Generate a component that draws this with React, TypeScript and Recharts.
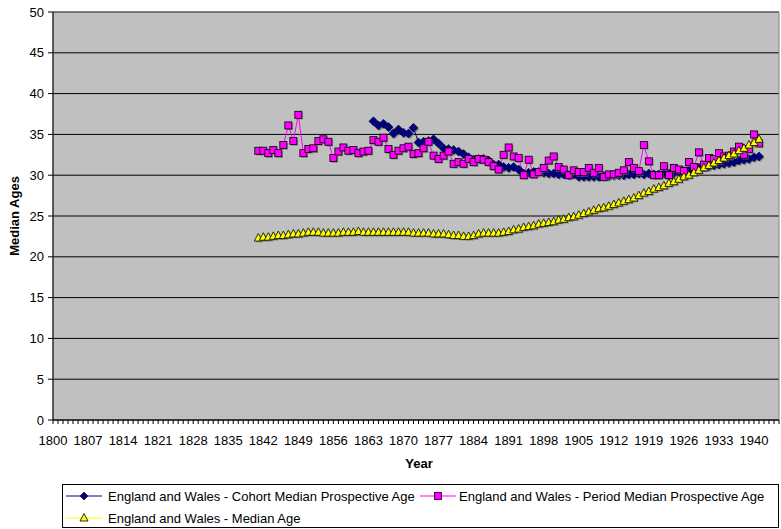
import React from 'react';
import {
  LineChart,
  Line,
  XAxis,
  YAxis,
  CartesianGrid,
  ReferenceArea
} from 'recharts';

// year range of the category axis
const FIRST_YEAR = 1800;
const LAST_YEAR = 1945;
const LABEL_STEP = 7;
const Y_TICKS = [0, 5, 10, 15, 20, 25, 30, 35, 40, 45, 50];

const COHORT_START = 1864;
const cohortValues = [
  36.6, 36.1, 36.3, 35.9, 35.1, 35.6, 35.2, 35.1, 35.8, 34.0, // 1864-1873
  34.1, 34.2, 34.4, 33.9, 33.3, 33.2, 33.1, 32.9, 32.6, 32.2, // 1874-1883
  31.9, 32.0, 32.0, 31.8, 31.3, 31.3, 31.0, 30.9, 31.0, 30.7, // 1884-1893
  30.2, 30.3, 30.4, 30.4, 30.3, 30.2, 30.2, 30.1, 30.1, 30.0, // 1894-1903
  30.1, 29.8, 29.8, 29.8, 29.8, 29.8, 29.9, 29.9, 30.0, 30.0, // 1904-1913
  30.0, 30.1, 30.1, 30.2, 30.1, 30.2, 30.1, 30.1, 30.2, 30.2, // 1914-1923
  30.3, 30.4, 30.5, 30.6, 30.8, 30.9, 31.0, 31.1, 31.2, 31.3, // 1924-1933
  31.4, 31.5, 31.6, 31.8, 31.9, 32.0, 32.2, 32.3              // 1934-1941
];

const PERIOD_START = 1841;
const periodValues = [
  33.0, 33.0, 32.7, 33.1, 32.7, 33.7, 36.1, 34.2, 37.4, 32.7, // 1841-1850
  33.2, 33.3, 34.2, 34.4, 34.1, 32.1, 32.9, 33.4, 33.0, 33.1, // 1851-1860
  32.7, 32.9, 33.0, 34.3, 34.1, 34.6, 33.2, 32.5, 33.0, 33.3, // 1861-1870
  33.5, 32.6, 32.7, 33.3, 34.1, 32.4, 32.0, 32.4, 32.9, 31.4, // 1871-1880
  31.6, 31.4, 32.0, 31.6, 32.0, 31.9, 31.6, 31.1, 30.7, 32.5, // 1881-1890
  33.4, 32.3, 32.1, 30.0, 31.9, 30.1, 30.4, 30.9, 31.8, 32.3, // 1891-1900
  31.0, 30.7, 30.0, 30.6, 30.4, 30.4, 30.9, 30.3, 30.9, 29.8, // 1901-1910
  30.1, 30.1, 30.3, 30.6, 31.6, 30.9, 30.5, 33.7, 31.7, 30.0, // 1911-1920
  30.0, 31.1, 30.0, 30.9, 30.7, 30.5, 31.6, 31.0, 32.8, 31.3, // 1921-1930
  32.1, 32.0, 32.7, 32.3, 32.4, 32.9, 33.5, 32.5, 33.2, 35.0, // 1931-1940
  33.9                                                        // 1941
];

const MEDIAN_START = 1841;
const medianValues = [
  22.3, 22.4, 22.4, 22.5, 22.6, 22.6, 22.7, 22.8, 22.8, 22.9, // 1841-1850
  23.0, 23.0, 23.0, 22.9, 22.9, 22.9, 22.9, 23.0, 23.0, 23.0, // 1851-1860
  23.1, 23.0, 23.0, 23.0, 23.0, 23.0, 23.0, 23.0, 23.0, 23.0, // 1861-1870
  23.0, 22.9, 22.9, 22.9, 22.9, 22.8, 22.8, 22.8, 22.7, 22.6, // 1871-1880
  22.6, 22.5, 22.5, 22.6, 22.8, 22.9, 22.9, 22.9, 22.9, 23.0, // 1881-1890
  23.1, 23.3, 23.4, 23.6, 23.7, 23.8, 24.0, 24.1, 24.2, 24.3, // 1891-1900
  24.5, 24.6, 24.8, 24.9, 25.1, 25.3, 25.5, 25.7, 25.9, 26.0, // 1901-1910
  26.2, 26.4, 26.6, 26.8, 27.0, 27.2, 27.5, 27.8, 28.0, 28.3, // 1911-1920
  28.5, 28.7, 29.0, 29.2, 29.5, 29.8, 30.0, 30.3, 30.6, 30.9, // 1921-1930
  31.2, 31.5, 31.8, 32.1, 32.4, 32.6, 33.0, 33.3, 33.7, 34.0, // 1931-1940
  34.4                                                        // 1941
];

const SERIES_NAMES = [
  'England and Wales - Cohort Median Prospective Age',
  'England and Wales - Period Median Prospective Age',
  'England and Wales - Median Age'
];

const NAVY = '#000080';
const PINK = '#FF00FF';
const YELLOW = '#FFFF00';
const FONT = 'Arial, "Liberation Sans", Helvetica, sans-serif';

const years: number[] = [];
for (let y = FIRST_YEAR; y <= LAST_YEAR; y++) years.push(y);

const pick = (vals: number[], start: number, yr: number) => {
  const i = yr - start;
  return i >= 0 && i < vals.length ? vals[i] : null;
};

const data = years.map(yr => ({
  year: yr,
  cohort: pick(cohortValues, COHORT_START, yr),
  period: pick(periodValues, PERIOD_START, yr),
  median: pick(medianValues, MEDIAN_START, yr)
}));

// marker shapes (excel style, with a small drop shadow)
const diamondPath = (x: number, y: number, r: number) =>
  `M${x},${y - r}L${x + r},${y}L${x},${y + r}L${x - r},${y}Z`;
const trianglePath = (x: number, y: number) =>
  `M${x},${y - 4.5}L${x + 4},${y + 3}L${x - 4},${y + 3}Z`;

const DiamondDot = (props: any) => {
  const { cx, cy, value, index } = props;
  if (value == null || cx == null || cy == null) return <g key={`d-${index}`} />;
  return (
    <g key={`d-${index}`}>
      <path d={diamondPath(cx + 1.2, cy + 1.2, 4.5)} fill="#6e6e6e" opacity={0.7} />
      <path d={diamondPath(cx, cy, 4.5)} fill={NAVY} stroke="#000030" strokeWidth={0.6} />
    </g>
  );
};

const SquareDot = (props: any) => {
  const { cx, cy, value, index } = props;
  if (value == null || cx == null || cy == null) return <g key={`s-${index}`} />;
  return (
    <g key={`s-${index}`}>
      <rect x={cx - 3.5 + 1.2} y={cy - 3.5 + 1.2} width={7} height={7} fill="#6e6e6e" opacity={0.7} />
      <rect x={cx - 3.5} y={cy - 3.5} width={7} height={7} fill={PINK} stroke="#000" strokeWidth={0.8} />
    </g>
  );
};

const TriangleDot = (props: any) => {
  const { cx, cy, value, index } = props;
  if (value == null || cx == null || cy == null) return <g key={`t-${index}`} />;
  return (
    <g key={`t-${index}`}>
      <path d={trianglePath(cx + 1.2, cy + 1.2)} fill="#6e6e6e" opacity={0.7} />
      <path d={trianglePath(cx, cy)} fill={YELLOW} stroke="#000" strokeWidth={0.8} />
    </g>
  );
};

const YearTick = (props: any) => {
  const { x, y, payload } = props;
  const yr = payload.value;
  if ((yr - FIRST_YEAR) % LABEL_STEP !== 0) return <g />;
  return (
    <text x={x} y={y} dy={19} textAnchor="middle" fontSize={13} fontFamily={FONT} fill="#000">
      {yr}
    </text>
  );
};

const LegendIcon = ({ x, y, kind }: { x: number; y: number; kind: number }) => {
  const colors = [NAVY, PINK, YELLOW];
  const mid = x + 18;
  return (
    <g>
      <line x1={x} y1={y} x2={x + 36} y2={y} stroke={colors[kind]} strokeWidth={1} />
      {kind === 0 && <path d={diamondPath(mid, y, 4)} fill={NAVY} stroke="#000030" strokeWidth={0.6} />}
      {kind === 1 && <rect x={mid - 3.5} y={y - 3.5} width={7} height={7} fill={PINK} stroke="#000" strokeWidth={0.8} />}
      {kind === 2 && <path d={trianglePath(mid, y)} fill={YELLOW} stroke="#000" strokeWidth={0.8} />}
    </g>
  );
};

export default function App() {
  return (
    <div style={{ position: 'relative', width: 781, height: 529, background: '#fff' }}>
      <style>{'body{margin:0}'}</style>
      <LineChart
        width={781}
        height={529}
        data={data}
        margin={{ top: 12, right: 2, left: 0, bottom: 79 }}
      >
        <CartesianGrid vertical={false} stroke="#000" fill="#C0C0C0" horizontalValues={Y_TICKS} />
        <ReferenceArea
          x1={FIRST_YEAR}
          x2={LAST_YEAR}
          y1={0}
          y2={50}
          fill="none"
          stroke="#808080"
          strokeWidth={1}
        />
        <XAxis
          dataKey="year"
          type="number"
          domain={[FIRST_YEAR, LAST_YEAR]}
          ticks={years}
          interval={0}
          height={30}
          tickSize={4}
          tickMargin={2}
          tick={<YearTick />}
          axisLine={{ stroke: '#000' }}
          tickLine={{ stroke: '#000' }}
          allowDecimals={false}
        />
        <YAxis
          type="number"
          domain={[0, 50]}
          ticks={Y_TICKS}
          width={53}
          tickSize={5}
          tickMargin={4}
          tick={{ fontSize: 13, fontFamily: FONT, fill: '#000' }}
          axisLine={{ stroke: '#000' }}
          tickLine={{ stroke: '#000' }}
        />
        <Line
          dataKey="cohort"
          name={SERIES_NAMES[0]}
          stroke={NAVY}
          strokeWidth={1}
          dot={DiamondDot}
          activeDot={false}
          isAnimationActive={false}
        />
        <Line
          dataKey="period"
          name={SERIES_NAMES[1]}
          stroke={PINK}
          strokeWidth={1}
          dot={SquareDot}
          activeDot={false}
          isAnimationActive={false}
        />
        <Line
          dataKey="median"
          name={SERIES_NAMES[2]}
          stroke={YELLOW}
          strokeWidth={1}
          dot={TriangleDot}
          activeDot={false}
          isAnimationActive={false}
        />
      </LineChart>

      {/* axis titles and legend drawn over the chart */}
      <svg
        width={781}
        height={529}
        style={{ position: 'absolute', left: 0, top: 0, pointerEvents: 'none' }}
        fontFamily={FONT}
      >
        <text
          x={0}
          y={0}
          transform="translate(19,216) rotate(-90)"
          textAnchor="middle"
          fontSize={13}
          fontWeight="bold"
        >
          Median Ages
        </text>
        <text x={419} y={468} textAnchor="middle" fontSize={13} fontWeight="bold">
          Year
        </text>

        <rect x={62.5} y={484.5} width={716} height={43} fill="#fff" stroke="#000" strokeWidth={1} />
        <LegendIcon x={66} y={496} kind={0} />
        <text x={108} y={500.5} fontSize={13}>{SERIES_NAMES[0]}</text>
        <LegendIcon x={420} y={496} kind={1} />
        <text x={459} y={500.5} fontSize={13}>{SERIES_NAMES[1]}</text>
        <LegendIcon x={66} y={518} kind={2} />
        <text x={108} y={522.5} fontSize={13}>{SERIES_NAMES[2]}</text>
      </svg>
    </div>
  );
}
